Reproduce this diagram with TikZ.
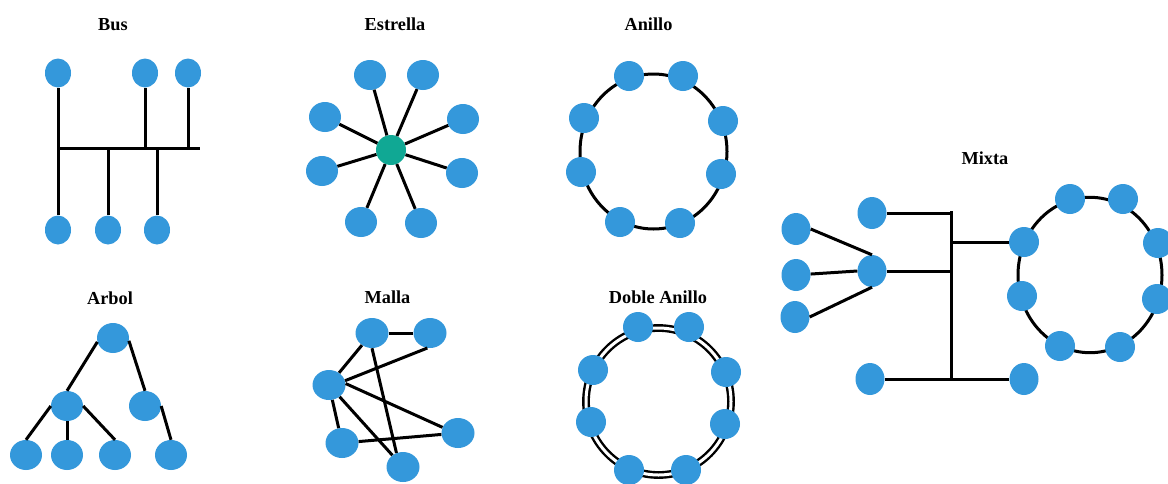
\documentclass[tikz,border=0pt]{standalone}
\usepackage{fontspec}
\setmainfont{Liberation Serif}
\usetikzlibrary{shapes.geometric}
\definecolor{hostblue}{HTML}{3498DB}
\definecolor{hubgreen}{HTML}{10A894}

\tikzset{
  host/.style={ellipse, fill=hostblue, draw=none, inner sep=0pt,
               minimum width=#1, minimum height=30},
  host/.default=31,
  smallhost/.style={ellipse, fill=hostblue, draw=none, inner sep=0pt,
               minimum width=26, minimum height=29},
  mixhost/.style={ellipse, fill=hostblue, draw=none, inner sep=0pt,
               minimum width=29, minimum height=32},
  hub/.style={circle, fill=hubgreen, draw=none, inner sep=0pt, minimum size=30},
  link/.style={line width=3pt, black},
  dlink/.style={line width=2.4pt, black, double=white, double distance=3pt},
  caption/.style={font=\bfseries\fontsize{18.3}{20}\selectfont, inner sep=0pt}
}

\begin{document}
\begin{tikzpicture}[x=1pt, y=-1pt]
  \useasboundingbox (0,0) rectangle (1168,483);
  \clip (0,0) rectangle (1168,483);
  \fill[white] (0,0) rectangle (1168,483);

  % ---------- Bus ----------
  \node[caption] (tBus) at (113,25) {Bus};
  \node[smallhost] (bu1) at (58,73) {};
  \node[smallhost] (bu2) at (145,73) {};
  \node[smallhost] (bu3) at (188,73) {};
  \node[smallhost] (bd1) at (58,230) {};
  \node[smallhost] (bd2) at (108,230) {};
  \node[smallhost] (bd3) at (157,230) {};
  \coordinate (busL) at (58,148);
  \coordinate (busR) at (200,148);
  \draw[link] (busL) -- (busR);
  \draw[link] (bu1) -- (bu1 |- busL) -- (bd1);
  \draw[link] (bu2) -- (bu2 |- busL);
  \draw[link] (bu3) -- (bu3 |- busL);
  \draw[link] (bd2 |- busL) -- (bd2);
  \draw[link] (bd3 |- busL) -- (bd3);

  % ---------- Estrella ----------
  \node[caption] (tStar) at (395,24.5) {Estrella};
  \node[hub] (sc) at (391,150) {};
  \node[host=32] (s1) at (370,75) {};
  \node[host=32] (s2) at (423,75) {};
  \node[host=32] (s3) at (325,117) {};
  \node[host=32] (s4) at (463,119) {};
  \node[host=32] (s5) at (322,171) {};
  \node[host=32] (s6) at (462,173) {};
  \node[host=32] (s7) at (361,222) {};
  \node[host=32] (s8) at (421,223) {};
  \foreach \s in {s1,s2,s3,s4,s5,s6,s7,s8}
    \draw[link] (sc) -- (\s);

  % ---------- Anillo ----------
  \node[caption] (tRing) at (648.5,24.5) {Anillo};
  \coordinate (rc) at (653.5,151.5);
  \draw[link] (rc) ellipse [x radius=73.5, y radius=77.5];
  \node[host=30] (a1) at (629,76) {};
  \node[host=30] (a2) at (683,76) {};
  \node[host=30] (a3) at (584,118) {};
  \node[host=30] (a4) at (723,121) {};
  \node[host=30] (a5) at (581,172) {};
  \node[host=30] (a6) at (721,174) {};
  \node[host=30] (a7) at (620,222) {};
  \node[host=30] (a8) at (680,223) {};

  % ---------- Arbol ----------
  \node[caption] (tTree) at (110,298.5) {Arbol};
  \node[host=32] (root) at (113,338) {};
  \node[host=32] (ml) at (67,406) {};
  \node[host=32] (mr) at (145,406) {};
  \node[host=32] (l1) at (26,455) {};
  \node[host=32] (l2) at (67,455) {};
  \node[host=32] (l3) at (115,455) {};
  \node[host=32] (l4) at (171,455) {};
  \draw[link] (root.194) -- (ml.north);
  \draw[link] (root.-10) -- (mr.north);
  \draw[link] (ml.west) -- (l1.north);
  \draw[link] (ml.south) -- (l2.north);
  \draw[link] (ml.east) -- (l3.north);
  \draw[link] (mr.east) -- (l4.north);

  % ---------- Malla ----------
  \node[caption] (tMesh) at (387.5,297) {Malla};
  \node[host=33] (mA) at (372,333) {};
  \node[host=33] (mB) at (430,333) {};
  \node[host=33] (mC) at (329,385) {};
  \node[host=33] (mD) at (458,433) {};
  \node[host=33] (mE) at (342,443) {};
  \node[host=33] (mF) at (403,467) {};
  \draw[link] (mA) -- (mB);
  \draw[link] (mA) -- (mC);
  \draw[link] (mC.15) -- (mB.260);
  \draw[link] (mC.5) -- (mD.160);
  \draw[link] (mC) -- (mE);
  \draw[link] (mC) -- (mF);
  \draw[link] (mA.south) -- (mF.115);
  \draw[link] (mE) -- (mD);

  % ---------- Doble Anillo ----------
  \node[caption] (tDouble) at (658,297) {Doble Anillo};
  \coordinate (dc) at (658.5,401.5);
  \draw[dlink] (dc) ellipse [x radius=72.5, y radius=73.5];
  \node[host=30] (d1) at (638,327) {};
  \node[host=30] (d2) at (689,327) {};
  \node[host=30] (d3) at (593,370) {};
  \node[host=30] (d4) at (726,372) {};
  \node[host=30] (d5) at (591,422) {};
  \node[host=30] (d6) at (725,424) {};
  \node[host=30] (d7) at (629,470) {};
  \node[host=30] (d8) at (686,470) {};

  % ---------- Mixta ----------
  \node[caption] (tMixed) at (985,158.5) {Mixta};
  \coordinate (xc) at (1090,275);
  \draw[link] (xc) ellipse [x radius=72, y radius=77.7];
  \node[host=30] (x1) at (1070,199) {};
  \node[host=30] (x2) at (1123,199) {};
  \node[host=30] (x3) at (1024,242) {};
  \node[host=30] (x4) at (1158,243) {};
  \node[host=30] (x5) at (1022,296) {};
  \node[host=30] (x6) at (1157,299) {};
  \node[host=30] (x7) at (1060,346) {};
  \node[host=30] (x8) at (1120,347) {};

  \node[mixhost] (f1) at (796,229) {};
  \node[mixhost] (f2) at (796,275) {};
  \node[mixhost] (f3) at (795,317) {};
  \node[mixhost] (hb) at (872,271) {};
  \node[mixhost] (tl) at (872,213) {};
  \node[mixhost] (bl) at (870,379) {};
  \node[mixhost] (br) at (1024,379) {};

  \coordinate (trunkT) at (951,211);
  \coordinate (trunkB) at (951,379);
  \draw[link] (trunkT) -- (trunkB);
  \draw[link] (f1.east) -- (hb.north);
  \draw[link] (f2) -- (hb.west);
  \draw[link] (f3.east) -- (hb.south);
  \draw[link] (tl) -- (tl -| trunkT);
  \draw[link] (hb) -- (hb -| trunkT);
  \draw[link] (trunkT |- x3) -- (x3);
  \draw[link] (bl) -- (br);
\end{tikzpicture}
\end{document}
